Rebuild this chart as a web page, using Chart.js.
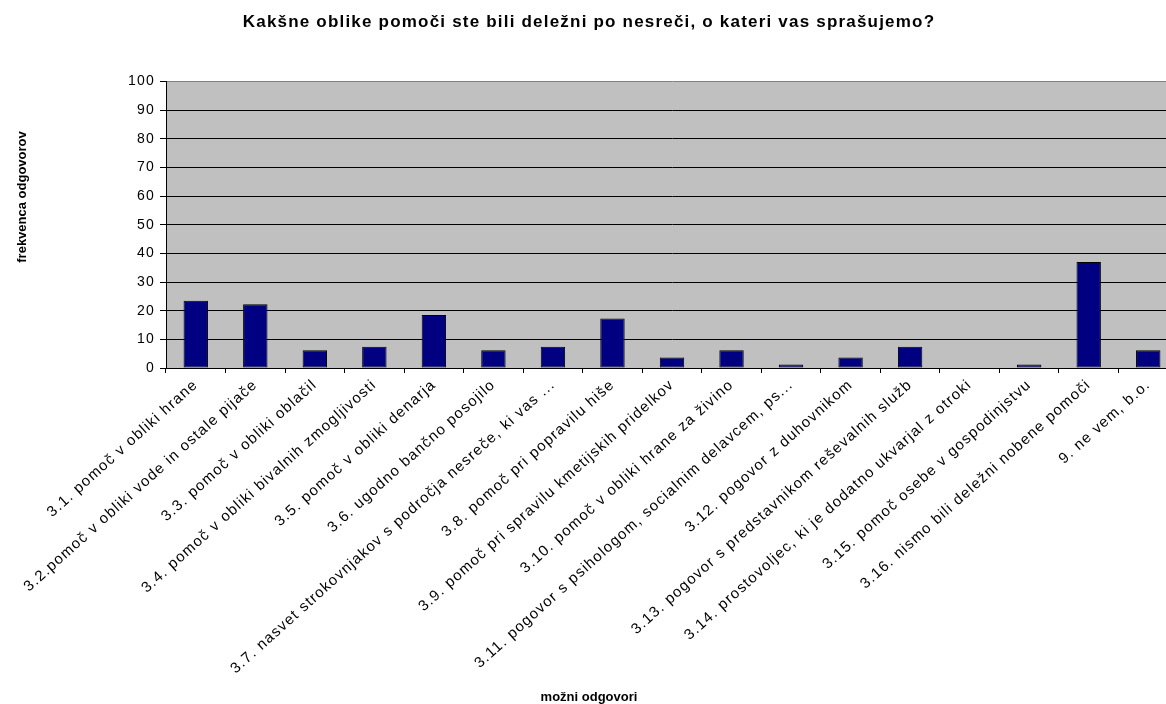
<!DOCTYPE html>
<html>
<head>
<meta charset="utf-8">
<script src="https://cdn.jsdelivr.net/npm/chart.js@4.4.1/dist/chart.umd.min.js"></script>
<style>
    html, body { margin: 0; padding: 0; background: #fff; overflow: hidden; }
    #wrap { position: absolute; left: 0; top: 0; width: 1178px; height: 704px; }
</style>
</head>
<body>
<div id="wrap"><canvas id="chart"></canvas></div>
<script>
const categories = [
    '3.1. pomoč v obliki hrane',
    '3.2.pomoč v obliki vode in ostale pijače',
    '3.3. pomoč v obliki oblačil',
    '3.4. pomoč v obliki bivalnih zmogljivosti',
    '3.5. pomoč v obliki denarja',
    '3.6. ugodno bančno posojilo',
    '3.7. nasvet strokovnjakov s področja nesreče, ki vas ...',
    '3.8. pomoč pri popravilu hiše',
    '3.9. pomoč pri spravilu kmetijskih pridelkov',
    '3.10. pomoč v obliki hrane za živino',
    '3.11. pogovor s psihologom, socialnim delavcem, ps...',
    '3.12. pogovor z duhovnikom',
    '3.13. pogovor s predstavnikom reševalnih služb',
    '3.14. prostovoljec, ki je dodatno ukvarjal z otroki',
    '3.15. pomoč osebe v gospodinjstvu',
    '3.16. nismo bili deležni nobene pomoči',
    '9. ne vem, b.o.'
];
const frequencies = [23.5, 22.2, 6.2, 7.4, 18.5, 6.2, 7.4, 17.3, 3.7, 6.2, 1.2, 3.7, 7.4, 0, 1.2, 37.0, 6.2];
const yTicks = [0, 10, 20, 30, 40, 50, 60, 70, 80, 90, 100];

const titleText = 'Kakšne oblike pomoči ste bili deležni po nesreči, o kateri vas sprašujemo?';
const xTitle = 'možni odgovori';
const yTitle = 'frekvenca odgovorov';

const FONT = '"Liberation Sans", Arial, sans-serif';

// grey plot background, wider text like the old office rendering, axis titles
const excelLook = {
    id: 'excelLook',
    beforeDraw(chart) {
        const { ctx, chartArea: a } = chart;
        ctx.letterSpacing = '1.2px';
        ctx.save();
        ctx.fillStyle = '#c0c0c0';
        ctx.fillRect(a.left, a.top, a.right - a.left, a.bottom - a.top);
        ctx.restore();
    },
    afterDraw(chart) {
        const ctx = chart.ctx;
        ctx.save();
        ctx.letterSpacing = '0px';
        ctx.fillStyle = '#000';
        ctx.font = 'bold 13px ' + FONT;
        ctx.textAlign = 'center';
        ctx.textBaseline = 'middle';
        ctx.fillText(xTitle, 589, 697);
        ctx.translate(22, 197);
        ctx.rotate(-Math.PI / 2);
        ctx.fillText(yTitle, 0, 0);
        ctx.restore();
    }
};

new Chart(document.getElementById('chart'), {
    type: 'bar',
    data: {
        labels: categories,
        datasets: [{
            data: frequencies,
            backgroundColor: '#000080',
            borderColor: '#000',
            borderWidth: 1,
            borderSkipped: false,
            barPercentage: 0.41,
            categoryPercentage: 1
        }]
    },
    options: {
        responsive: true,
        maintainAspectRatio: false,
        animation: false,
        layout: { padding: 0 },
        plugins: {
            legend: { display: false },
            tooltip: { enabled: false },
            title: {
                display: true,
                text: titleText,
                color: '#000',
                font: { family: FONT, size: 17, weight: 'bold' },
                padding: { top: 12, bottom: 49 }
            }
        },
        scales: {
            x: {
                afterFit(scale) { scale.height = 336; },
                grid: {
                    offset: true,
                    drawOnChartArea: false,
                    drawTicks: true,
                    tickLength: 5,
                    color: '#000'
                },
                border: { display: true, color: '#000' },
                ticks: {
                    autoSkip: false,
                    maxRotation: 42,
                    minRotation: 42,
                    padding: 3,
                    color: '#000',
                    font: { family: FONT, size: 15 }
                }
            },
            y: {
                min: 0,
                max: 100,
                afterFit(scale) { scale.width = 166; },
                afterBuildTicks(scale) { scale.ticks = yTicks.map(v => ({ value: v })); },
                grid: {
                    color: ctx => (ctx.tick && ctx.tick.value === 100) ? '#808080' : '#000',
                    lineWidth: 1,
                    tickLength: 6,
                    tickColor: '#000'
                },
                border: { display: true, color: '#000' },
                ticks: {
                    padding: 5,
                    color: '#000',
                    font: { family: FONT, size: 14 }
                }
            }
        }
    },
    plugins: [excelLook]
});
</script>
</body>
</html>
